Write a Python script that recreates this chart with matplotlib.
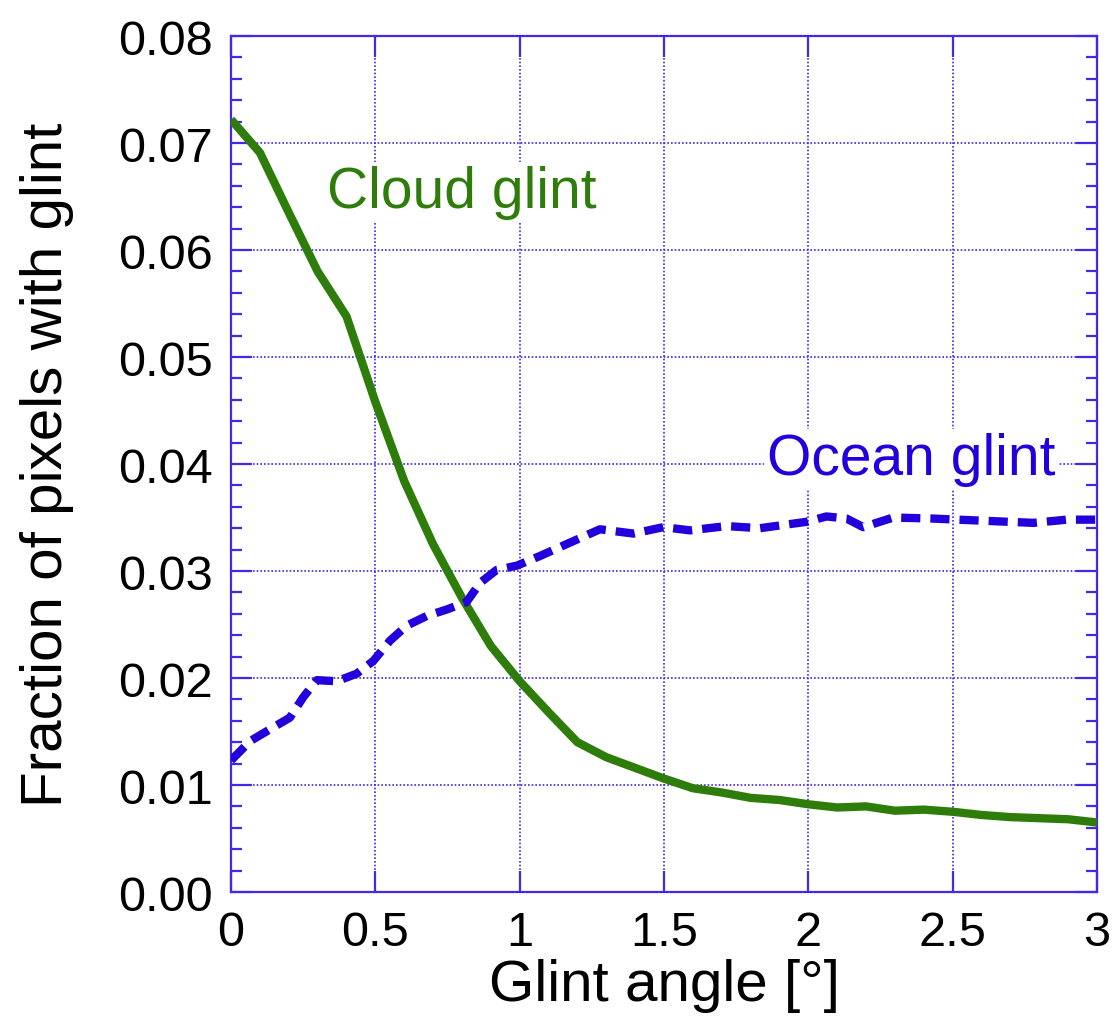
import matplotlib
import matplotlib.pyplot as plt
from matplotlib.ticker import MultipleLocator

matplotlib.use("Agg")

# Cloud glint (solid green)
cloud_x = [0, 0.1, 0.2, 0.3, 0.4, 0.5, 0.6, 0.7, 0.8, 0.9, 1.0, 1.1, 1.2, 1.3, 1.4, 1.5,
           1.6, 1.7, 1.8, 1.9, 2.0, 2.1, 2.2, 2.3, 2.4, 2.5, 2.6, 2.7, 2.8, 2.9, 3.0]
cloud_y = [0.0722, 0.0691, 0.0635, 0.0580, 0.0538, 0.0458, 0.0384, 0.0325, 0.0275, 0.0230,
           0.0197, 0.0168, 0.0140, 0.0126, 0.0116, 0.0106, 0.0097, 0.0093, 0.0088, 0.0086,
           0.0082, 0.0079, 0.0080, 0.0076, 0.0077, 0.0075, 0.0072, 0.0070, 0.0069, 0.0068,
           0.0065]

# Ocean glint (dashed blue)
ocean_x = [0, 0.066, 0.147, 0.204, 0.25, 0.297, 0.366, 0.435, 0.493, 0.551, 0.609, 0.678,
           0.747, 0.816, 0.863, 0.92, 0.99, 1.07, 1.128, 1.278, 1.394, 1.498, 1.59, 1.717,
           1.832, 1.994, 2.063, 2.133, 2.19, 2.294, 2.433, 2.606, 2.78, 2.895, 3.0]
ocean_y = [0.0123, 0.0141, 0.0154, 0.0163, 0.0182, 0.0198, 0.0197, 0.0204, 0.0216, 0.0235,
           0.0249, 0.0258, 0.0264, 0.0271, 0.0289, 0.0301, 0.0305, 0.0314, 0.0321, 0.0339,
           0.0335, 0.0341, 0.0338, 0.0342, 0.0340, 0.0346, 0.0351, 0.0349, 0.0341, 0.0350,
           0.0349, 0.0347, 0.0345, 0.0348, 0.0348]

green = "#2e7d0a"
blue = "#2200dd"
axis_blue = "#4428e8"

plt.rcParams["font.family"] = ["Liberation Sans", "DejaVu Sans"]

fig = plt.figure(figsize=(11.14, 10.20), dpi=100)
ax = fig.add_axes([0.2074, 0.1245, 0.7773, 0.8392])

ax.plot(cloud_x, cloud_y, color=green, lw=6, solid_capstyle="butt", zorder=3)
ax.plot(ocean_x, ocean_y, color=blue, lw=6, ls=(0, (2.3, 1.2)), zorder=3)

ax.set_xlim(0, 3)
ax.set_ylim(0, 0.08)
ax.xaxis.set_major_locator(MultipleLocator(0.5))
ax.yaxis.set_major_locator(MultipleLocator(0.01))
ax.yaxis.set_minor_locator(MultipleLocator(0.002))
ax.xaxis.set_major_formatter(matplotlib.ticker.FuncFormatter(lambda v, p: f"{v:g}"))
ax.yaxis.set_major_formatter(matplotlib.ticker.FuncFormatter(lambda v, p: f"{v:.2f}"))

ax.grid(True, which="major", color=axis_blue, lw=1.2, ls=(0, (1, 1.2)))
for s in ax.spines.values():
    s.set_color(axis_blue)
    s.set_linewidth(1.6)

ax.tick_params(which="both", direction="in", colors=axis_blue, top=True, right=True,
               labelcolor="black", labelsize=35)
ax.tick_params(which="major", length=15, width=1.6, pad=13)
ax.tick_params(which="minor", length=8, width=1.6)

ax.set_xlabel("Glint angle [°]", fontsize=42, labelpad=2)
ax.set_ylabel("Fraction of pixels with glint", fontsize=42, labelpad=32)

ax.text(0.333, 0.0654, "Cloud glint", color=green, fontsize=41, va="center", ha="left",
        bbox=dict(facecolor="white", edgecolor="none", pad=2), zorder=2)
ax.text(1.857, 0.0405, "Ocean glint", color=blue, fontsize=41, va="center", ha="left",
        bbox=dict(facecolor="white", edgecolor="none", pad=2), zorder=2)

fig.savefig("out.png", dpi=100, facecolor="white")
